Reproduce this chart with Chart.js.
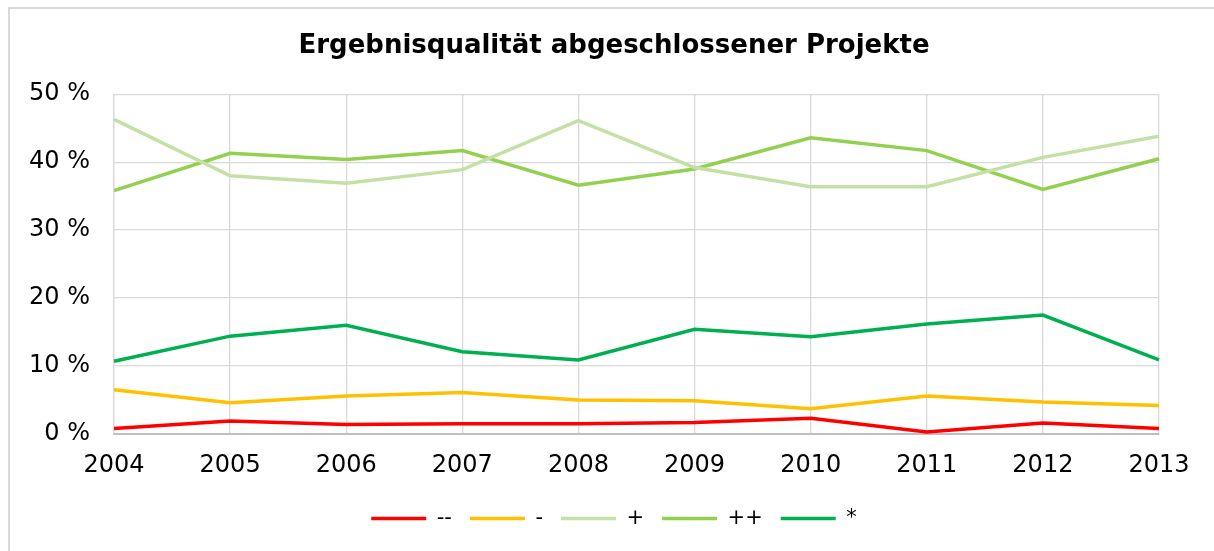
<!DOCTYPE html>
<html>
<head>
<meta charset="utf-8">
<script src="https://cdn.jsdelivr.net/npm/chart.js@4/dist/chart.umd.min.js"></script>
<style>
  html, body { margin: 0; padding: 0; background: #fff; overflow: hidden; }
  #frame { position: absolute; left: 8px; top: 7px; width: 1400px; height: 700px; border: 2px solid #d9d9d9; box-sizing: border-box; }
  #c { position: absolute; left: 0; top: 0; }
</style>
</head>
<body>
<div id="frame"></div>
<canvas id="c" width="1214" height="551"></canvas>
<script>
const years = ['2004','2005','2006','2007','2008','2009','2010','2011','2012','2013'];
const seriesNames = ['--', '-', '+', '++', '*'];
const vMinusMinus = [0.8, 1.9, 1.4, 1.5, 1.5, 1.7, 2.3, 0.3, 1.6, 0.8];
const vMinus      = [6.5, 4.6, 5.6, 6.1, 5.0, 4.9, 3.7, 5.6, 4.7, 4.2];
const vPlus       = [46.3, 38.0, 36.9, 38.9, 46.1, 39.2, 36.4, 36.4, 40.7, 43.8];
const vPlusPlus   = [35.8, 41.3, 40.4, 41.7, 36.6, 39.0, 43.6, 41.7, 36.0, 40.5];
const vStar       = [10.7, 14.4, 16.0, 12.1, 10.9, 15.4, 14.3, 16.2, 17.5, 10.9];
const colors = ['#ff0000', '#ffc000', '#c5e0a5', '#92d050', '#00b050'];
const yTicks = [0, 10, 20, 30, 40, 50];

const FONT = "'DejaVu Sans', Verdana, sans-serif";
const allValues = [vMinusMinus, vMinus, vPlus, vPlusPlus, vStar];

const datasets = allValues.map((vals, i) => ({
  label: seriesNames[i],
  data: vals,
  borderColor: colors[i],
  backgroundColor: colors[i],
  borderWidth: 3.5,
  pointRadius: 0,
  pointHoverRadius: 0,
  tension: 0,
  fill: false
}));

new Chart(document.getElementById('c'), {
  type: 'line',
  data: { labels: years, datasets },
  options: {
    responsive: false,
    devicePixelRatio: 1,
    animation: false,
    layout: { padding: { left: 14, right: 0, top: 0, bottom: 12 } },
    plugins: {
      title: {
        display: true,
        text: 'Ergebnisqualität abgeschlossener Projekte',
        color: '#000',
        font: { family: FONT, size: 26, weight: 'bold' },
        padding: { top: 31, bottom: 32 }
      },
      legend: {
        position: 'bottom',
        labels: {
          usePointStyle: true,
          pointStyle: 'line',
          pointStyleWidth: 55,
          color: '#000',
          font: { family: FONT, size: 21 },
          padding: 18
        }
      },
      tooltip: { enabled: false }
    },
    scales: {
      x: {
        offset: false,
        grid: { color: '#d9d9d9', lineWidth: 1.3, drawTicks: false },
        border: { color: '#bfbfbf', width: 2 },
        ticks: { color: '#000', font: { family: FONT, size: 24 }, padding: 17, maxRotation: 0 },
        afterFit: (s) => { s.height = 56; s.paddingRight = 55; }
      },
      y: {
        min: 0, max: 50,
        afterBuildTicks: (s) => { s.ticks = yTicks.map(v => ({ value: v })); },
        grid: { color: '#d9d9d9', lineWidth: 1.3, drawTicks: false },
        border: { color: '#d9d9d9', width: 1.3 },
        ticks: { color: '#000', font: { family: FONT, size: 24 }, padding: 24, callback: (v) => v + ' %' },
        afterFit: (s) => { s.width = 100; }
      }
    }
  }
});
</script>
</body>
</html>
